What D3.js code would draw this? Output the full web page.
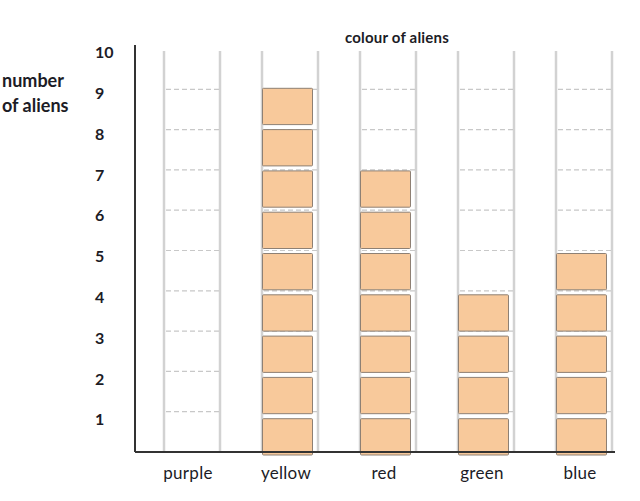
<!DOCTYPE html>
<html>
<head>
<meta charset="utf-8">
<script src="https://cdn.jsdelivr.net/npm/d3@7"></script>
<style>
  html, body { margin: 0; padding: 0; background: #fff; }
  svg { display: block; }
  text { font-family: Lato, "Open Sans", sans-serif; fill: #1c1c26; }
</style>
</head>
<body>
<svg id="chart" width="640" height="501"></svg>
<script>
const categories = ["purple", "yellow", "red", "green", "blue"];
const counts = [0, 9, 7, 4, 5];
const yTicks = [1, 2, 3, 4, 5, 6, 7, 8, 9, 10];
const gridLevels = [1, 2, 3, 4, 5, 6, 7, 8, 9];
const xTitle = "colour of aliens";
const yTitle = ["number", "of aliens"];

const svg = d3.select("#chart");

const x = d3.scaleBand().domain(categories).range([143, 633]).padding(0);
// scale for the stacked blocks
const y = d3.scaleLinear().domain([0, 10]).range([460, 47]);
// scale for the tick numbers
const yLabel = d3.scaleLinear().domain([0, 10]).range([462, 54]);
// scale for the faint dashed guide lines inside each column
const yGrid = d3.scaleLinear().domain([0, 10]).range([452, 49]);

const trackHalf = 28;

// columns (tracks)
const cols = svg.append("g").selectAll("g").data(categories).join("g");
[-trackHalf, trackHalf].forEach(off => {
  cols.append("line")
    .attr("x1", d => x(d) + x.bandwidth() / 2 + off)
    .attr("x2", d => x(d) + x.bandwidth() / 2 + off)
    .attr("y1", 51).attr("y2", yGrid(0))
    .attr("stroke", "#d2d2d2").attr("stroke-width", 2.5);
});

// dashed level lines
cols.each(function(c) {
  const cx = x(c) + x.bandwidth() / 2;
  d3.select(this).selectAll("line.dash").data(gridLevels).join("line")
    .attr("class", "dash")
    .attr("x1", cx - trackHalf + 2).attr("x2", cx + trackHalf - 1)
    .attr("y1", d => yGrid(d)).attr("y2", d => yGrid(d))
    .attr("stroke", "#c8c8c8").attr("stroke-width", 1.2)
    .attr("stroke-dasharray", "5,3");
});

// boxes
const boxes = [];
categories.forEach((c, i) => {
  for (let k = 0; k < counts[i]; k++) boxes.push({ c, k });
});
svg.append("g").selectAll("rect").data(boxes).join("rect")
  .attr("x", d => x(d.c) + x.bandwidth() / 2 - trackHalf + 0.5)
  .attr("width", 50)
  .attr("y", d => y(d.k + 1))
  .attr("height", d => y(d.k) - y(d.k + 1) - 5)
  .attr("fill", "#f8c99b")
  .attr("stroke", "#8e8074")
  .attr("stroke-width", 1)
  .attr("rx", 1);

// axes
svg.append("line")
  .attr("x1", 135).attr("x2", 135)
  .attr("y1", 45).attr("y2", yGrid(0))
  .attr("stroke", "#333").attr("stroke-width", 2);
svg.append("line")
  .attr("x1", 135).attr("x2", 615)
  .attr("y1", yGrid(0)).attr("y2", yGrid(0))
  .attr("stroke", "#333").attr("stroke-width", 2);

// y tick labels
svg.append("g").selectAll("text").data(yTicks).join("text")
  .attr("x", 95)
  .attr("y", d => yLabel(d))
  .attr("dominant-baseline", "middle")
  .attr("font-size", 16)
  .attr("font-weight", "bold")
  .text(d => d);

// category labels
svg.append("g").selectAll("text").data(categories).join("text")
  .attr("x", d => x(d) + x.bandwidth() / 2 - 4)
  .attr("y", 479)
  .attr("text-anchor", "middle")
  .attr("font-size", 17)
  .attr("letter-spacing", 0.3)
  .text(d => d);

// titles
svg.append("text")
  .attr("x", 397).attr("y", 43)
  .attr("text-anchor", "middle")
  .attr("font-size", 15)
  .attr("font-weight", "bold")
  .attr("letter-spacing", 0.2)
  .text(xTitle);

svg.append("g").selectAll("text").data(yTitle).join("text")
  .attr("x", 2)
  .attr("y", (d, i) => 87 + i * 25)
  .attr("font-size", 18)
  .attr("font-weight", "bold")
  .text(d => d);
</script>
</body>
</html>
